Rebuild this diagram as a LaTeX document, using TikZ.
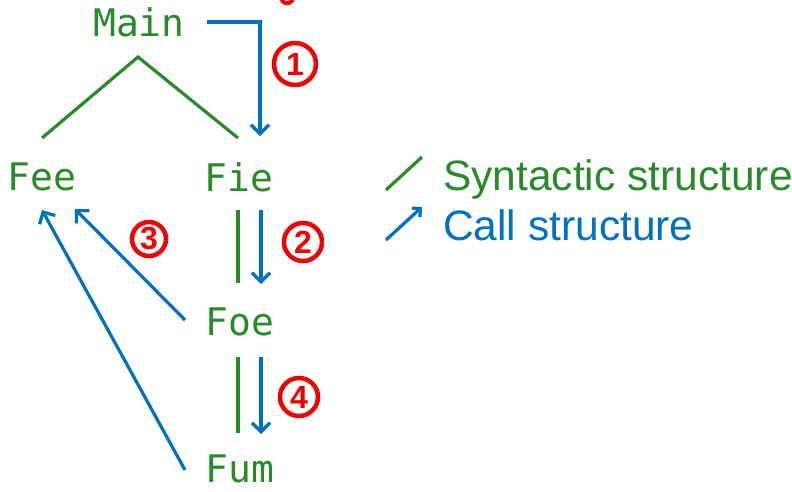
\documentclass[tikz,border=0pt]{standalone}
\usepackage{fontspec}
\setmainfont{Liberation Sans}
\newfontfamily\codefont{DejaVu Sans Mono}
\usetikzlibrary{arrows.meta}
\definecolor{syn}{RGB}{40,138,40}
\definecolor{call}{RGB}{0,112,192}
\definecolor{penred}{RGB}{240,0,0}
\tikzset{
  x=1pt, y=-1pt,
  fn/.style={font=\codefont\fontsize{38}{42}\selectfont, text=syn, inner sep=0pt, anchor=center},
  synline/.style={draw=syn, line width=3.2pt},
  callarrow/.style={draw=call, line width=3.2pt, -{Straight Barb[length=9pt,width=18pt,line width=3.2pt]}},
  stepnum/.style={draw=penred, line width=4.5pt, circle, minimum size=38pt, text=penred, inner sep=0pt,
    font=\bfseries\fontsize{32}{34}\selectfont},
  legend/.style={font=\fontsize{42.5}{48}\selectfont, inner sep=0pt, anchor=base west}
}
\begin{document}
\begin{tikzpicture}
\useasboundingbox (0,0) rectangle (792,491);

% function names
\node[fn] (main) at (139,22) {Main};
\node[fn] (fee) at (42,177) {Fee};
\node[fn] (fie) at (239,177) {Fie};
\node[fn] (foe) at (240,322) {Foe};
\node[fn] (fum) at (240,469) {Fum};

% syntactic structure
\coordinate (top) at (138,57);
\coordinate (feeT) at (42,138);
\coordinate (fieT) at (238,138);
\draw[synline] (feeT) -- (top) -- (fieT);
\coordinate (s1a) at (238,210);
\coordinate (s1b) at (238,283);
\coordinate (s2a) at (238,357);
\coordinate (s2b) at (238,433);
\draw[synline] (s1a) -- (s1b);
\draw[synline] (s2a) -- (s2b);

% call structure
\coordinate (m0) at (207,22);
\coordinate (m1) at (260,22);
\coordinate (m2) at (260,136);
\draw[callarrow] (m0) -- (m1) -- (m2);
\coordinate (c1a) at (261,210);
\coordinate (c1b) at (261,284);
\draw[callarrow] (c1a) -- (c1b);
\coordinate (c2a) at (261,357);
\coordinate (c2b) at (261,434);
\draw[callarrow] (c2a) -- (c2b);
\coordinate (f0) at (185,320);
\coordinate (f1) at (75,209);
\draw[callarrow] (f0) -- (f1);
\coordinate (g0) at (185,470);
\coordinate (g1) at (42,210);
\draw[callarrow] (g0) -- (g1);

% step numbers
\node[stepnum, minimum size=42pt] (n1) at (295,64) {1};
\node[stepnum] (n2) at (303,242) {2};
\node[stepnum, minimum size=34pt] (n3) at (149,239) {3};
\node[stepnum] (n4) at (299,397) {4};
\draw[penred, line width=4pt, line cap=round] (281,-2) .. controls (283,4) and (288,5) .. (292,1);

% legend
\coordinate (la) at (386,190);
\coordinate (lb) at (422,157);
\draw[synline] (la) -- (lb);
\coordinate (lc) at (386,240);
\coordinate (ld) at (422,207);
\draw[callarrow, -{Straight Barb[length=6pt,width=12pt,line width=3.2pt]}] (lc) -- (ld);
\node[legend, text=syn] (lsyn) at (443,190) {Syntactic structure};
\node[legend, text=call] (lcall) at (443,240) {Call structure};
\end{tikzpicture}
\end{document}
